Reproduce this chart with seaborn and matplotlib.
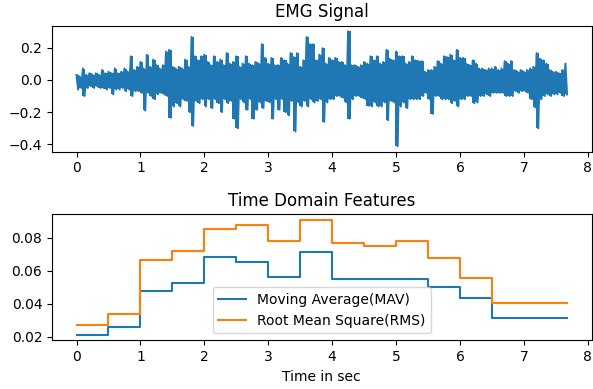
import numpy as np
import pandas as pd
import matplotlib
matplotlib.use('Agg')
import matplotlib.pyplot as plt
import seaborn as sns

# EMG envelope, one pair per 0.05 s bin (upper / lower peak)
emg_hi = [0.03, 0.02, 0.07, 0.03, 0.04, 0.03, 0.04, 0.03, 0.06, 0.04,
          0.05, 0.04, 0.07, 0.04, 0.05, 0.07, 0.05, 0.145, 0.06, 0.08,
          0.11, 0.07, 0.155, 0.08, 0.125, 0.09, 0.07, 0.09, 0.175, 0.185,
          0.08, 0.07, 0.08, 0.07, 0.125, 0.08, 0.265, 0.145, 0.12, 0.145,
          0.155, 0.11, 0.09, 0.145, 0.11, 0.125, 0.09, 0.165, 0.10, 0.11,
          0.145, 0.08, 0.10, 0.145, 0.10, 0.09, 0.11, 0.10, 0.22, 0.135,
          0.10, 0.135, 0.09, 0.09, 0.135, 0.12, 0.10, 0.165, 0.14, 0.165,
          0.08, 0.12, 0.265, 0.22, 0.22, 0.12, 0.155, 0.195, 0.10, 0.135,
          0.12, 0.135, 0.11, 0.11, 0.09, 0.30, 0.09, 0.09, 0.08, 0.09,
          0.11, 0.10, 0.145, 0.12, 0.145, 0.10, 0.11, 0.185, 0.13, 0.12,
          0.175, 0.145, 0.145, 0.10, 0.11, 0.145, 0.12, 0.115, 0.115, 0.05,
          0.06, 0.06, 0.08, 0.115, 0.10, 0.145, 0.14, 0.155, 0.12, 0.185,
          0.135, 0.135, 0.10, 0.09, 0.12, 0.10, 0.07, 0.07, 0.06, 0.07,
          0.07, 0.08, 0.06, 0.07, 0.115, 0.10, 0.115, 0.06, 0.05, 0.06,
          0.05, 0.06, 0.07, 0.08, 0.165, 0.13, 0.12, 0.10, 0.06, 0.05,
          0.05, 0.04, 0.06, 0.10]
emg_lo = [-0.06, -0.05, -0.10, -0.05, -0.04, -0.05, -0.04, -0.05, -0.05, -0.06,
          -0.05, -0.09, -0.06, -0.06, -0.05, -0.07, -0.06, -0.10, -0.07, -0.07,
          -0.08, -0.19, -0.08, -0.10, -0.12, -0.09, -0.08, -0.09, -0.10, -0.235,
          -0.165, -0.145, -0.165, -0.12, -0.13, -0.20, -0.285, -0.13, -0.145, -0.12,
          -0.165, -0.12, -0.175, -0.12, -0.145, -0.20, -0.12, -0.145, -0.13, -0.24,
          -0.30, -0.12, -0.14, -0.185, -0.12, -0.24, -0.185, -0.14, -0.175, -0.13,
          -0.14, -0.24, -0.12, -0.185, -0.12, -0.20, -0.22, -0.13, -0.32, -0.14,
          -0.165, -0.13, -0.165, -0.12, -0.14, -0.13, -0.12, -0.26, -0.14, -0.12,
          -0.12, -0.10, -0.10, -0.11, -0.14, -0.24, -0.12, -0.10, -0.10, -0.11,
          -0.12, -0.16, -0.165, -0.14, -0.165, -0.165, -0.14, -0.25, -0.13, -0.14,
          -0.41, -0.165, -0.14, -0.175, -0.12, -0.12, -0.12, -0.12, -0.10, -0.08,
          -0.12, -0.21, -0.10, -0.10, -0.12, -0.12, -0.12, -0.145, -0.13, -0.165,
          -0.12, -0.12, -0.10, -0.10, -0.145, -0.14, -0.10, -0.10, -0.09, -0.10,
          -0.08, -0.08, -0.08, -0.08, -0.10, -0.10, -0.10, -0.07, -0.08, -0.07,
          -0.07, -0.08, -0.12, -0.17, -0.30, -0.12, -0.10, -0.09, -0.10, -0.09,
          -0.09, -0.08, -0.10, -0.09]
bin_sec = 0.05

# features per 0.5 s window
win_start = [0.0, 0.5, 1.0, 1.5, 2.0, 2.5, 3.0, 3.5, 4.0, 4.5, 5.0, 5.5, 6.0, 6.5]
t_end = 7.675
mav = [0.0212, 0.0257, 0.0475, 0.0523, 0.0684, 0.0652, 0.0562, 0.0717,
       0.0550, 0.0552, 0.0550, 0.0501, 0.0432, 0.0316]
rms = [0.0271, 0.0338, 0.0664, 0.0723, 0.0853, 0.0877, 0.0778, 0.0908,
       0.0768, 0.0749, 0.0780, 0.0676, 0.0554, 0.0403]

# interleave upper and lower peaks to get the signal trace
sig = []
t = []
for i in range(len(emg_hi)):
    sig.append(emg_hi[i])
    sig.append(emg_lo[i])
    t.append(i * bin_sec)
    t.append(i * bin_sec + bin_sec / 2)
emg_df = pd.DataFrame({'t': t, 'emg': sig})
t_bin = np.arange(len(emg_hi)) * bin_sec + bin_sec / 4

feat_df = pd.DataFrame({'t': win_start + [t_end],
                        'mav': mav + [mav[-1]],
                        'rms': rms + [rms[-1]]})

fig, (ax1, ax2) = plt.subplots(2, 1, figsize=(5.93, 3.89), dpi=100)
fig.subplots_adjust(left=0.0877, right=0.9975, top=0.934, bottom=0.125, hspace=0.497)

# dense samples render as a solid band between the peaks
ax1.fill_between(t_bin, emg_lo, emg_hi, step='mid', color='#1f77b4', linewidth=0)
sns.lineplot(data=emg_df, x='t', y='emg', ax=ax1, color='#1f77b4',
             estimator=None, sort=False, linewidth=1.5)
ax1.set_title('EMG Signal')
ax1.set_xlabel('')
ax1.set_ylabel('')

sns.lineplot(data=feat_df, x='t', y='mav', ax=ax2, color='#1f77b4',
             estimator=None, drawstyle='steps-post', label='Moving Average(MAV)')
sns.lineplot(data=feat_df, x='t', y='rms', ax=ax2, color='#ff7f0e',
             estimator=None, drawstyle='steps-post', label='Root Mean Square(RMS)')
ax2.set_title('Time Domain Features')
ax2.set_xlabel('Time in sec')
ax2.set_ylabel('')
ax2.legend(loc='lower center')

for ax in (ax1, ax2):
    ax.set_xticks(range(0, 9))

plt.savefig('out.png', dpi=100)
